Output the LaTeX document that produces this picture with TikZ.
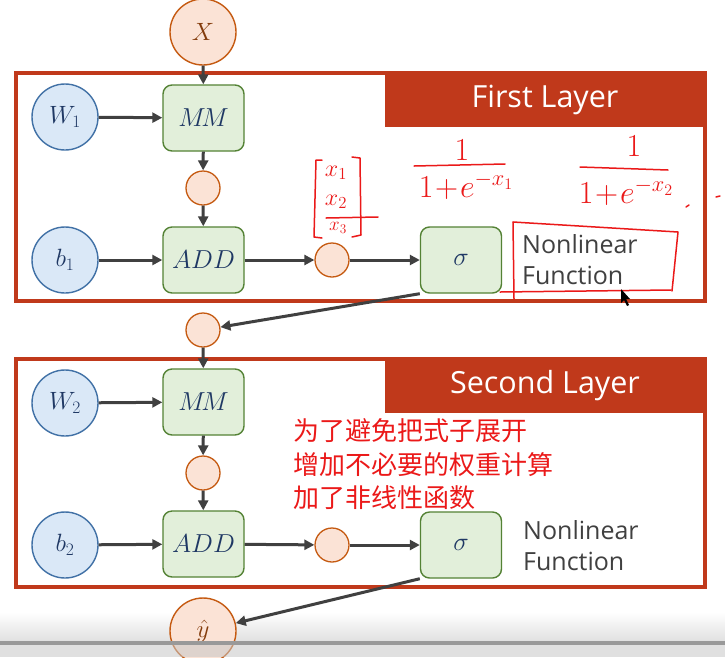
\RequirePackage{fix-cm}
\documentclass[tikz,border=0pt]{standalone}
\usepackage{fontspec}
\setmainfont{Open Sans}
\newfontfamily\cjk{Noto Sans CJK SC}
\usetikzlibrary{arrows.meta,shapes.geometric}
\definecolor{framered}{RGB}{192,57,27}
\definecolor{bluefill}{RGB}{218,232,247}
\definecolor{blueline}{RGB}{65,113,166}
\definecolor{greenfill}{RGB}{226,239,218}
\definecolor{greenline}{RGB}{84,130,53}
\definecolor{orfill}{RGB}{251,227,214}
\definecolor{orline}{RGB}{197,90,17}
\definecolor{navy}{RGB}{31,56,100}
\definecolor{brownt}{RGB}{132,60,12}
\definecolor{arrowc}{RGB}{64,64,64}
\definecolor{pen}{RGB}{235,25,25}
\definecolor{txtgray}{RGB}{64,64,64}
\tikzset{
  bigcirc/.style={circle,minimum size=66pt,inner sep=0pt,line width=1.4pt},
  wcirc/.style={bigcirc,draw=blueline,fill=bluefill,text=navy,font=\fontsize{25}{27}\selectfont},
  iocirc/.style={bigcirc,draw=orline,fill=orfill,text=brownt,font=\fontsize{25}{27}\selectfont},
  smallcirc/.style={circle,minimum size=34pt,inner sep=0pt,line width=1.3pt,draw=orline,fill=orfill},
  opbox/.style={rectangle,rounded corners=9pt,minimum width=81pt,minimum height=66pt,inner sep=0pt,
     line width=1.4pt,draw=greenline,fill=greenfill,text=navy,font=\fontsize{26}{28}\selectfont},
  conn/.style={line width=3pt,draw=arrowc,-{Triangle[length=10pt,width=10pt]}},
  framebox/.style={draw=framered,line width=3.5pt},
  banner/.style={fill=framered},
  bannertext/.style={text=white,font=\fontsize{30.5}{33}\selectfont},
  nltext/.style={text=txtgray,font=\fontsize{25}{31}\selectfont,align=left,anchor=west,inner sep=0pt},
  cjktext/.style={text=pen,font=\cjk\fontsize{26}{30}\selectfont,anchor=west,inner sep=0pt},
  penline/.style={draw=pen,line width=1.5pt,line cap=round,line join=round},
  pentext/.style={text=pen,inner sep=0pt}
}
\begin{document}
\begin{tikzpicture}[x=1pt,y=-1pt]
\useasboundingbox (0,0) rectangle (725,657);
\fill[white] (0,0) rectangle (725,657);
% video overlay gradient (background)
\shade[top color=white,bottom color=black!12] (0,612) rectangle (725,641);

% frames
\draw[framebox] (16,73) rectangle (705,301);
\fill[banner] (385,73) rectangle (705,127);
\node[bannertext] (t1) at (545,100) {First Layer};
\draw[framebox] (16,359) rectangle (705,587);
\fill[banner] (385,359) rectangle (705,413);
\node[bannertext] (t2) at (545,386) {Second Layer};

% first layer
\node[iocirc] (X) at (203,32) {$X$};
\node[wcirc] (W1) at (65,117) {$W_1$};
\node[opbox] (MM1) at (203.5,118) {$M\!M$};
\node[smallcirc] (c1) at (203,188) {};
\node[wcirc] (b1) at (65,260) {$b_1$};
\node[opbox] (ADD1) at (203.5,260) {$ADD$};
\node[smallcirc] (c2) at (332,260) {};
\node[opbox] (S1) at (461,260) {$\sigma$};
\node[nltext] (nl1) at (522,260) {Nonlinear\\Function};

\node[smallcirc] (c3) at (203,330) {};

% second layer
\node[wcirc] (W2) at (65,403) {$W_2$};
\node[opbox] (MM2) at (203.5,402) {$M\!M$};
\node[smallcirc] (c4) at (203,473) {};
\node[wcirc] (b2) at (65,545) {$b_2$};
\node[opbox] (ADD2) at (203.5,544) {$ADD$};
\node[smallcirc] (c5) at (332,545) {};
\node[opbox] (S2) at (461,545) {$\sigma$};
\node[nltext] (nl2) at (523,546) {Nonlinear\\Function};
\node[iocirc] (Y) at (203,631) {$\hat{y}$};

% connectors
\draw[conn] (X) -- (MM1);
\draw[conn] (W1) -- (MM1);
\draw[conn] (MM1) -- (c1);
\draw[conn] (c1) -- (ADD1);
\draw[conn] (b1) -- (ADD1);
\draw[conn] (ADD1) -- (c2);
\draw[conn] (c2) -- (S1);
\draw[conn] (S1.south west) -- (c3);
\draw[conn] (c3) -- (MM2);
\draw[conn] (W2) -- (MM2);
\draw[conn] (MM2) -- (c4);
\draw[conn] (c4) -- (ADD2);
\draw[conn] (b2) -- (ADD2);
\draw[conn] (ADD2) -- (c5);
\draw[conn] (c5) -- (S2);
\draw[conn] (S2.south west) -- (Y);

% annotations (Chinese)
\node[cjktext] (z1) at (293,431) {为了避免把式子展开};
\node[cjktext] (z2) at (293,465) {增加不必要的权重计算};
\node[cjktext] (z3) at (293,498) {加了非线性函数};

% handwritten vector
\draw[penline] (322,160) -- (316,160) -- (314,237) -- (322,238);
\draw[penline] (352,157) -- (360,158) -- (361,235) -- (352,237);
\node[pentext,font=\fontsize{24}{26}\selectfont] (v1) at (336,173) {$x_1$};
\node[pentext,font=\fontsize{24}{26}\selectfont] (v2) at (336,202) {$x_2$};
\node[pentext,font=\fontsize{19}{20}\selectfont] (v3) at (338,228) {$x_3$};
\draw[penline] (326,218) -- (378,217);

% handwritten fractions
\node[pentext,font=\fontsize{32}{34}\selectfont] (f1n) at (462,150) {$1$};
\draw[penline] (414,166) -- (505,164);
\node[pentext,font=\fontsize{32}{34}\selectfont] (f1d) at (466,186) {$1\!+\!e^{-x_1}$};
\node[pentext,font=\fontsize{32}{34}\selectfont] (f2n) at (634,146) {$1$};
\draw[penline] (580,167) -- (668,170);
\node[pentext,font=\fontsize{32}{34}\selectfont] (f2d) at (626,192) {$1\!+\!e^{-x_2}$};
\draw[penline] (686,207) -- (689,205);
\draw[penline] (716,197) -- (720,196);

% red box around nonlinear function
\draw[penline] (513,222) -- (678,232) -- (672,291);
\draw[penline] (513,222) -- (514,299);
\draw[penline] (500,292) -- (671,290);

% cursor
\fill[black] (621,289) -- (621,303) -- (624,300) -- (627,306) -- (629,305) -- (626,299) -- (630,299) -- cycle;

% video overlay bar
\fill[black!40] (0,641) rectangle (725,645);
\fill[black!22,opacity=0.55] (0,645) rectangle (725,657);
\end{tikzpicture}
\end{document}
